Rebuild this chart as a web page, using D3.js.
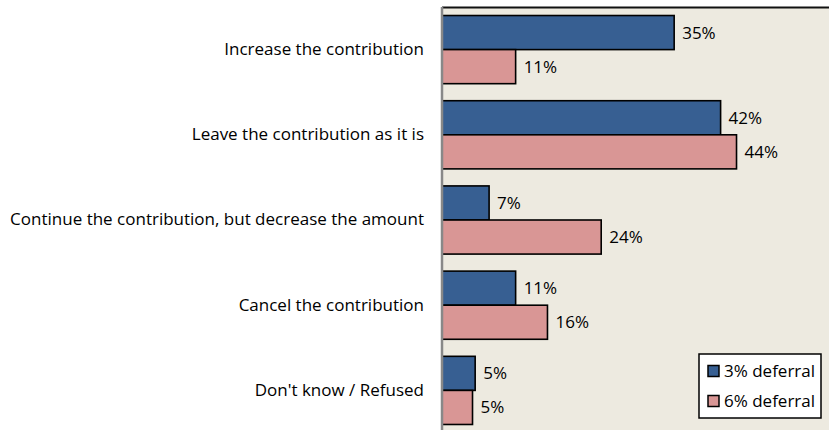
<!DOCTYPE html>
<html>
<head>
<meta charset="utf-8">
<script src="https://cdn.jsdelivr.net/npm/d3@7"></script>
<style>
html,body{margin:0;padding:0;background:#fff;}
svg{display:block;}
text{font-family:"Open Sans",sans-serif;fill:#000;}
</style>
</head>
<body>
<svg id="chart" width="829" height="430"></svg>
<script>
const categories = [
  "Increase the contribution",
  "Leave the contribution as it is",
  "Continue the contribution, but decrease the amount",
  "Cancel the contribution",
  "Don't know / Refused"
];
const seriesNames = ["3% deferral", "6% deferral"];
const deferral3 = [35.0, 42.0, 7.1, 11.1, 5.0];
const deferral6 = [11.1, 44.4, 24.0, 15.9, 4.6];
const colors = ["#375F92", "#D99695"];

const svg = d3.select("#chart");
const W = 829, H = 430;
const plot = {left: 442, top: 7, right: 840, bottom: 433};
const FS = 17;

const x = d3.scaleLinear().domain([0, 60]).range([plot.left, plot.right]);
const y = d3.scaleBand().domain(categories).range([plot.top, plot.bottom]).paddingInner(0.2).paddingOuter(0.1);
const ySub = d3.scaleBand().domain(seriesNames).range([0, y.bandwidth()]);

// plot background
svg.append("rect").attr("x", plot.left).attr("y", plot.top)
  .attr("width", W - plot.left).attr("height", H - plot.top)
  .attr("fill", "#EDEAE0");
// top border
svg.append("line").attr("x1", plot.left).attr("x2", W).attr("y1", plot.top + 0.5).attr("y2", plot.top + 0.5)
  .attr("stroke", "#111").attr("stroke-width", 2);

const data = categories.map((c, i) => ({cat: c, vals: [deferral3[i], deferral6[i]]}));
const fmt = v => d3.format(".0f")(v) + "%";

const groups = svg.selectAll("g.grp").data(data).join("g").attr("class", "grp")
  .attr("transform", d => `translate(0,${y(d.cat)})`);

groups.selectAll("rect").data(d => d.vals.map((v, j) => ({v, s: seriesNames[j], j})))
  .join("rect")
  .attr("x", x(0))
  .attr("y", d => ySub(d.s))
  .attr("width", d => x(d.v) - x(0))
  .attr("height", ySub.bandwidth())
  .attr("fill", d => colors[d.j])
  .attr("stroke", "#000").attr("stroke-width", 1.6);

groups.selectAll("text.val").data(d => d.vals.map((v, j) => ({v, s: seriesNames[j], j})))
  .join("text").attr("class", "val")
  .attr("x", d => x(d.v) + 8)
  .attr("y", d => ySub(d.s) + ySub.bandwidth() / 2)
  .attr("dy", "0.35em")
  .attr("font-size", FS)
  .text(d => fmt(d.v));

// y axis
const yAxis = d3.axisLeft(y).tickSize(0).tickPadding(18);
const ag = svg.append("g").attr("transform", `translate(${plot.left},0)`).call(yAxis);
ag.select(".domain").attr("stroke", "#888").attr("stroke-width", 2.5)
  .attr("d", `M0,${plot.top}V${H}`);
ag.selectAll(".tick text").attr("font-size", FS).attr("font-family", "Open Sans, sans-serif").attr("fill", "#000");

// legend
const lg = svg.append("g").attr("transform", "translate(699,354)");
lg.append("rect").attr("x", 0).attr("y", 0).attr("width", 122).attr("height", 64)
  .attr("fill", "#fff").attr("stroke", "#000").attr("stroke-width", 1.5);
seriesNames.forEach((s, i) => {
  const row = lg.append("g").attr("transform", `translate(9,${17 + i * 30})`);
  row.append("rect").attr("x", 0).attr("y", -5.5).attr("width", 11).attr("height", 11)
    .attr("fill", colors[i]).attr("stroke", "#000").attr("stroke-width", 1.5);
  row.append("text").attr("x", 16).attr("y", 0).attr("dy", "0.35em").attr("font-size", FS).text(s);
});
</script>
</body>
</html>
